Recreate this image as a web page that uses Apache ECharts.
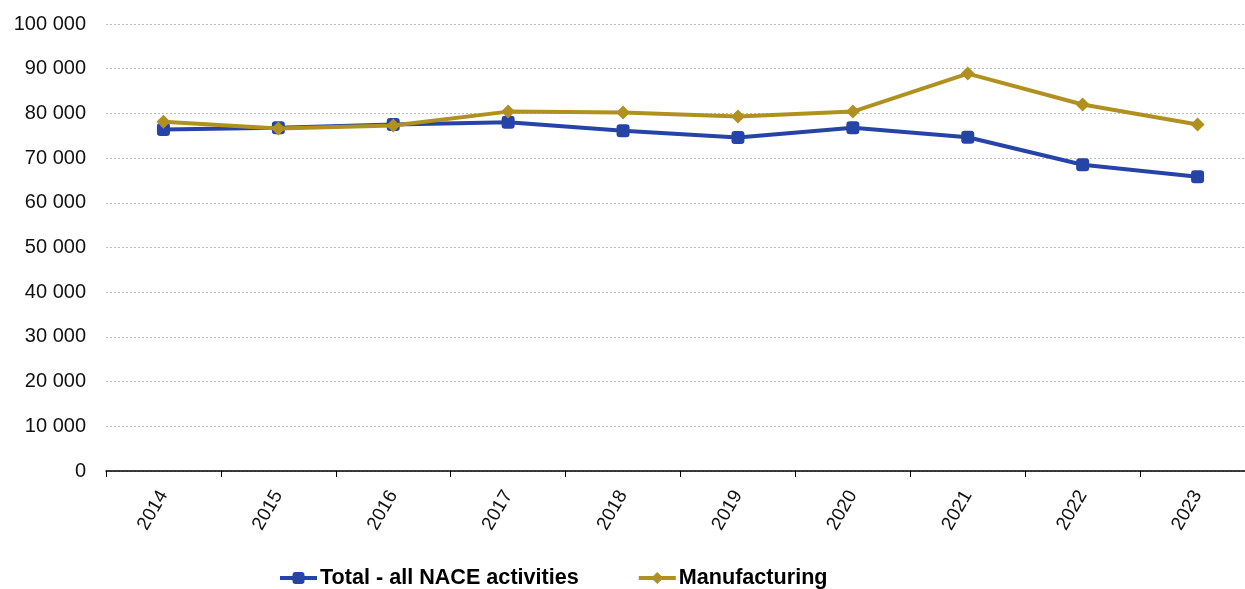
<!DOCTYPE html>
<html>
<head>
<meta charset="utf-8">
<script src="https://cdn.jsdelivr.net/npm/echarts@6/dist/echarts.min.js"></script>
<style>
  html, body { margin: 0; padding: 0; background: #fff; overflow: hidden; }
  /* canvas is a little wider than the window so the last category runs past the edge */
  #chart { width: 1255px; height: 589px; }
</style>
</head>
<body>
<div id="chart"></div>
<script>
// Years on the category axis
const years = ['2014', '2015', '2016', '2017', '2018', '2019', '2020', '2021', '2022', '2023'];

// Series values
const totalNace = [76400, 76800, 77500, 78000, 76100, 74600, 76800, 74650, 68500, 65850];
const manufacturing = [78150, 76600, 77300, 80400, 80200, 79300, 80400, 88900, 82000, 77500];

// Value-axis range
const yMin = 0;
const yMax = 100000;
const yStep = 10000;

const fmt = v => String(v).replace(/\B(?=(\d{3})+(?!\d))/g, ' ');
const font = 'Liberation Sans, Arial, sans-serif';

const chart = echarts.init(document.getElementById('chart'));
chart.setOption({
  animation: false,
  textStyle: { fontFamily: font },
  grid: { left: 106, right: 0, top: 24, bottom: 118, containLabel: false },
  legend: {
    top: 562,
    left: 273,
    itemWidth: 37,
    itemHeight: 15,
    itemGap: 58,
    lineStyle: { width: 4 },
    textStyle: { fontSize: 21.6, fontWeight: 'bold', color: '#000', fontFamily: font, padding: [0, 0, 0, -2] },
    data: ['Total - all NACE activities', 'Manufacturing']
  },
  xAxis: {
    type: 'category',
    data: years,
    boundaryGap: true,
    axisLine: { lineStyle: { color: '#000', width: 1.5 } },
    axisTick: { show: true, length: 6, lineStyle: { color: '#000' } },
    axisLabel: { rotate: 60, fontSize: 19, color: '#111', margin: 21 }
  },
  yAxis: {
    type: 'value',
    min: yMin,
    max: yMax,
    interval: yStep,
    axisLine: { show: false },
    axisTick: { show: false },
    axisLabel: { fontSize: 20, color: '#111', margin: 20, formatter: fmt },
    splitLine: { lineStyle: { color: '#bbb', type: [2, 2], width: 1 } }
  },
  series: [
    {
      name: 'Total - all NACE activities',
      type: 'line',
      data: totalNace,
      symbol: 'roundRect',
      symbolSize: 13,
      lineStyle: { width: 4, color: '#2644A7' },
      itemStyle: { color: '#2644A7' },
      z: 2
    },
    {
      name: 'Manufacturing',
      type: 'line',
      data: manufacturing,
      symbol: 'diamond',
      symbolSize: 14,
      lineStyle: { width: 4, color: '#B09120' },
      itemStyle: { color: '#B09120' },
      z: 3
    }
  ]
});
</script>
</body>
</html>
